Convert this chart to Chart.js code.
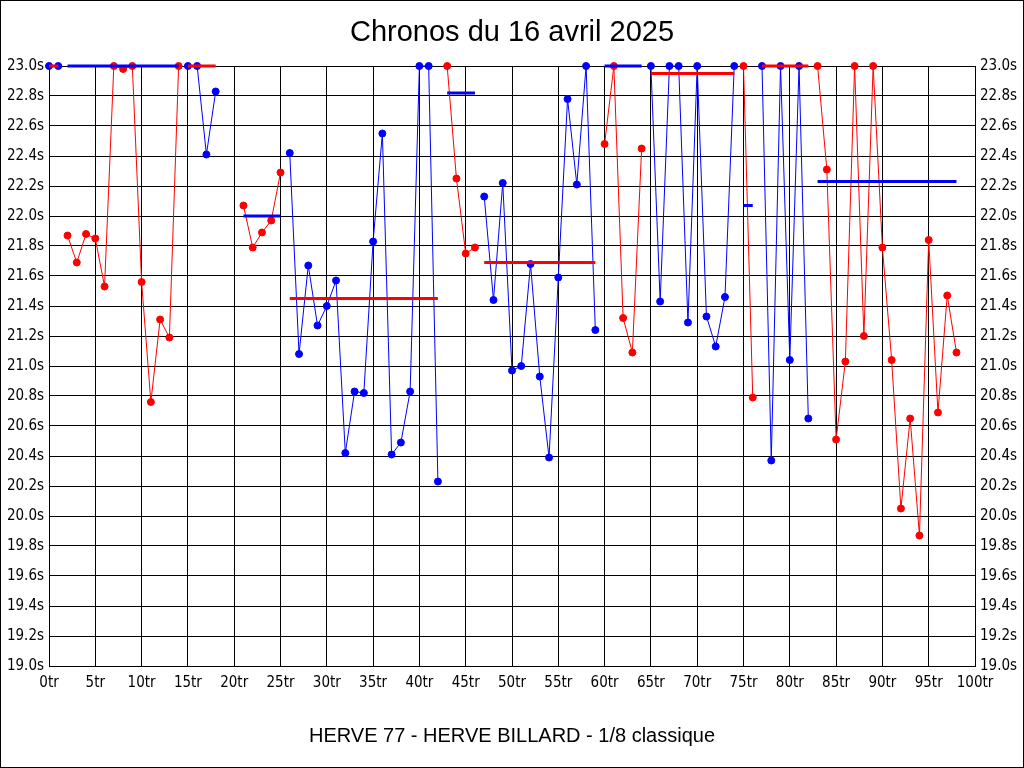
<!DOCTYPE html>
<html>
<head>
<meta charset="utf-8">
<title>Chronos du 16 avril 2025</title>
<script src="https://cdn.jsdelivr.net/npm/chart.js@4/dist/chart.umd.min.js"></script>
<style>
  html, body { margin: 0; padding: 0; background: #fff; }
  canvas { display: block; }
</style>
</head>
<body>
<canvas id="chronoChart" width="1024" height="768"></canvas>
<script>
// chrono (seconds) per tour, null = no shot; values above 23.0 are shown clipped at 23.0
const chronos = [
  23.0, 23.0, 21.87, 21.69, 21.88, 21.85, 21.53, 23.0, 22.98, 23.0,
  21.56, 20.76, 21.31, 21.19, 23.0, 23.0, 23.0, 22.41, 22.83, null,
  null, 22.07, 21.79, 21.89, 21.97, 22.29, 22.42, 21.08, 21.67, 21.27,
  21.40, 21.57, 20.42, 20.83, 20.82, 21.83, 22.55, 20.41, 20.49, 20.83,
  23.0, 23.0, 20.23, 23.0, 22.25, 21.75, 21.79, 22.13, 21.44, 22.22,
  20.97, 21.00, 21.68, 20.93, 20.39, 21.59, 22.78, 22.21, 23.0, 21.24,
  22.48, 23.0, 21.32, 21.09, 22.45, 23.0, 21.43, 23.0, 23.0, 21.29,
  23.0, 21.33, 21.13, 21.46, 23.0, 23.0, 20.79, 23.0, 20.37, 23.0,
  21.04, 23.0, 20.65, 23.0, 22.31, 20.51, 21.03, 23.0, 21.20, 23.0,
  21.79, 21.04, 20.05, 20.65, 19.87, 21.84, 20.69, 21.47, 21.09
];

// innings: first and last tour, player, average chrono
const inningStart = [0, 2, 15, 21, 26, 43, 47, 60, 65, 75, 77, 83];
const inningEnd   = [1, 14, 18, 25, 42, 46, 59, 64, 74, 76, 82, 98];
const inningPlayer = [0, 1, 0, 1, 0, 1, 0, 1, 0, 1, 0, 1];
const inningAverage = [23.0, 23.0, 23.0, 22.00, 21.45, 22.82, 21.69, 23.0, 22.95, 22.07, 23.0, 22.23];

const playerColors = ['#0000FF', '#FF0000'];

const titleText = 'Chronos du 16 avril 2025';
const matchText = 'HERVE 77 - HERVE BILLARD - 1/8 classique';

const tickFont = { family: "'Liberation Sans Narrow', 'DejaVu Sans Condensed', sans-serif", size: 15 };
const textFont = "'Liberation Sans', Arial, sans-serif";

let datasets = [];
for (let i = 0; i < inningStart.length; i++) {
	let pts = [];
	for (let t = inningStart[i]; t <= inningEnd[i]; t++) {
		if (chronos[t] !== null) pts.push({ x: t, y: chronos[t] });
	}
	let col = playerColors[inningPlayer[i]];
	datasets.push({
		data: pts,
		borderColor: col,
		backgroundColor: col,
		borderWidth: 1,
		pointRadius: 3.5,
		pointBorderWidth: 1,
		pointBorderColor: col,
		pointBackgroundColor: col,
		clip: false,
		order: 2,
	});
	// the average line is drawn with the other player's colour
	let avgCol = playerColors[1 - inningPlayer[i]];
	datasets.push({
		data: [{ x: inningStart[i], y: inningAverage[i] }, { x: inningEnd[i], y: inningAverage[i] }],
		borderColor: avgCol,
		backgroundColor: avgCol,
		borderWidth: 3,
		pointRadius: 0,
		borderCapStyle: 'butt',
		clip: false,
		order: 1,
	});
}

const frame = {
	id: 'frame',
	beforeDraw(chart) {
		const c = chart.ctx;
		c.save();
		c.fillStyle = '#fff';
		c.fillRect(0, 0, chart.width, chart.height);
		c.restore();
	},
	afterDraw(chart) {
		const c = chart.ctx;
		c.save();
		c.strokeStyle = '#000';
		c.lineWidth = 1;
		c.strokeRect(0.5, 0.5, chart.width - 1, chart.height - 1);
		c.restore();
	}
};

const yTicks = {
	color: '#000',
	font: tickFont,
	padding: 5,
	stepSize: 0.2,
	callback: (v) => v.toFixed(1) + 's',
};

new Chart(document.getElementById('chronoChart'), {
	type: 'line',
	data: { datasets: datasets },
	plugins: [frame],
	options: {
		responsive: false,
		animation: false,
		layout: { padding: 0 },
		plugins: {
			legend: { display: false },
			tooltip: { enabled: false },
			title: {
				display: true,
				text: titleText,
				color: '#000',
				font: { family: textFont, size: 29, weight: 'normal', lineHeight: 1.2 },
				padding: { top: 16, bottom: 15.2 },
			},
		},
		scales: {
			x: {
				type: 'linear',
				min: 0,
				max: 100,
				grid: { color: '#000', lineWidth: 1, drawTicks: false },
				border: { color: '#000', width: 1 },
				ticks: {
					color: '#000',
					font: tickFont,
					padding: 8,
					stepSize: 5,
					autoSkip: false,
					maxRotation: 0,
					callback: (v) => v + 'tr',
				},
				title: {
					display: true,
					text: matchText,
					color: '#000',
					font: { family: textFont, size: 20, lineHeight: 1.2 },
					padding: { top: 0, bottom: 20 },
				},
				afterFit: (s) => { s.height = 102; },
			},
			y: {
				position: 'left',
				min: 19,
				max: 23,
				grid: { color: '#000', lineWidth: 1, drawTicks: false },
				border: { color: '#000', width: 1 },
				ticks: yTicks,
				afterFit: (s) => { s.width = 49; },
			},
			y2: {
				position: 'right',
				min: 19,
				max: 23,
				grid: { drawOnChartArea: false, drawTicks: false },
				border: { color: '#000', width: 1 },
				ticks: yTicks,
				afterFit: (s) => { s.width = 49; },
			},
		},
	},
});
</script>
</body>
</html>
